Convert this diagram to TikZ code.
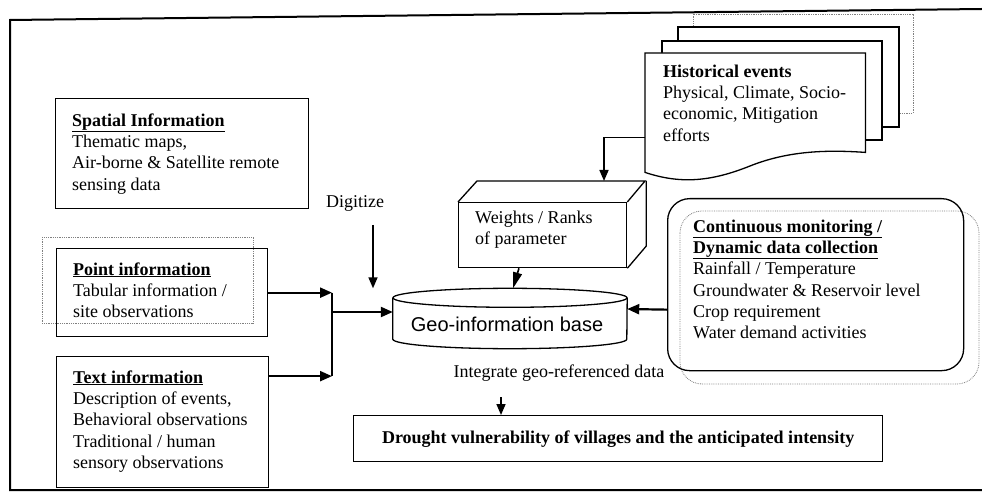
\documentclass[tikz,border=0pt]{standalone}
\usepackage{fontspec}
\setmainfont{Liberation Serif}
\newfontfamily\geofont{Liberation Sans}
\usetikzlibrary{arrows.meta,calc}
\begin{document}
\begin{tikzpicture}[x=1bp,y=-1bp,
  body/.style={font=\fontsize{18bp}{21.3bp}\selectfont},
  boldbody/.style={font=\fontsize{18bp}{21.3bp}\selectfont\bfseries},
  frameline/.style={line width=2bp},
  boxline/.style={draw, line width=1.3bp, inner sep=0pt, anchor=north west},
  ghost/.style={draw=black!50, densely dotted, line width=0.8bp},
  txt/.style={body, anchor=north west, align=left, inner sep=0pt},
  arr/.style={line width=1.6bp, -{Triangle[length=11bp,width=9bp]}},
  thickarr/.style={line width=2.2bp, -{Triangle[length=12bp,width=10bp]}},
  link/.style={line width=2bp},
  sheet/.style={line width=1.3bp, fill=white}]
\useasboundingbox (0,0) rectangle (982,498);

% outer frame
\draw[frameline] (982,9) -- (10,20) -- (10,490) -- (982,490);

% --- left column: input sources ---
\node[boxline, minimum width=253bp, minimum height=110bp] (spatial) at (55,98) {};
\node[txt] (spatialtxt) at (72,111) {\strut\underline{\textbf{Spatial Information}}\\Thematic maps,\\Air-borne \& Satellite remote\\sensing data};

\draw[ghost] (42,237) rectangle (253,323);
\node[boxline, minimum width=211bp, minimum height=88bp] (pt) at (56,248) {};
\node[txt] (pttxt) at (73,260) {\strut\underline{\textbf{Point information}}\\Tabular information /\\site observations};

\node[boxline, minimum width=212bp, minimum height=131bp] (tb) at (56,356) {};
\node[txt] (tbtxt) at (73,368) {\strut\underline{\textbf{Text information}}\\Description of events,\\Behavioral observations\\Traditional / human\\sensory observations};

\node[body, anchor=base] (digit) at (355,208) {Digitize};

% --- central geo-information base (cylinder) ---
\node[inner sep=0pt, minimum width=234bp, minimum height=60bp] (geo) at (510,318.5) {};
\draw[line width=1.3bp] ($(geo.north)+(0,9.5)$) ellipse [x radius=117, y radius=9.5];
\draw[line width=1.3bp] ($(geo.north west)+(0,9.5)$) -- ($(geo.south west)+(0,-9.5)$)
  arc[start angle=180, end angle=0, x radius=117, y radius=9.5] -- ($(geo.north east)+(0,9.5)$);
\node[font=\geofont\fontsize{20bp}{24bp}\selectfont, anchor=base, inner sep=0pt] (geotxt) at (507,332) {Geo-information base};

% --- weights / ranks cuboid ---
\node[boxline, minimum width=168bp, minimum height=65bp] (wts) at (458,202) {};
\draw[line width=1.3bp] (wts.north west) -- ++(19,-21) -- ++(168,0) -- (wts.north east);
\draw[line width=1.3bp] ($(wts.north east)+(19,-21)$) -- ++(0,65) -- (wts.south east);
\node[txt] (wtstxt) at (475,208) {\strut Weights / Ranks\\of parameter};

% --- historical events document stack ---
\draw[sheet, ghost, fill=white] (693,14) rectangle (913,113);
\draw[sheet] (678,27) rectangle (899,127);
\draw[sheet] (662,41) rectangle (882,140);
\node[inner sep=0pt, minimum width=220bp, minimum height=119bp, anchor=north west] (hist) at (645,53) {};
\draw[sheet] (hist.south west) -- (hist.north west) -- (hist.north east) -- ($(hist.south east)+(0,-20)$)
  .. controls (830,150) and (790,150) .. (750,166) .. controls (710,182) and (680,184) .. (hist.south west) -- cycle;
\node[txt] (histtxt) at (663,62) {\strut\textbf{Historical events}\\Physical, Climate, Socio-\\economic, Mitigation\\efforts};

% --- continuous monitoring ---
\draw[ghost, rounded corners=22bp] (680,211) rectangle (979,384);
\node[boxline, rounded corners=22bp, minimum width=296bp, minimum height=172bp] (mon) at (667,198) {};
\node[txt] (montxt) at (693,217) {\strut\underline{\textbf{Continuous monitoring /}}\\\underline{\textbf{Dynamic data collection}}\\Rainfall / Temperature\\Groundwater \& Reservoir level\\Crop requirement\\Water demand activities};

% --- output ---
\node[body, anchor=base] (integ) at (559,378) {Integrate geo-referenced data};
\node[boxline, boldbody, minimum width=529bp, minimum height=46bp] (drought) at (353,415) {Drought vulnerability of villages and the anticipated intensity};

% --- connectors ---
\coordinate (jx) at (332,312);
\draw[thickarr] (pt.east) -- (pt.east -| jx);
\draw[thickarr] ($(tb.east)+(0,-46)$) -- ($(tb.east -| jx)+(0,-46)$);
\draw[link] (pt.east -| jx) -- ($(tb.east -| jx)+(0,-46)$);
\draw[thickarr] (jx) -- (jx -| geo.west);

\coordinate (dg) at (373,225);
\draw[arr] (dg) -- (dg |- geo.north);

\coordinate (wtop) at (604,181);
\draw[arr] ($(hist.south west)+(0,-35)$) -| (wtop);

\draw[line width=1.6bp, -{Triangle[length=16bp,width=9bp]}]
  ($(wts.south west)!0.36!(wts.south east)$) -- ($(geo.north)+(3,0)$);

\draw[thickarr] ($(mon.west)+(0,25)$) -- ($(geo.east)+(0,-9.5)$);

\coordinate (iv) at (501,397);
\draw[arr] (iv) -- (iv |- drought.north);
\end{tikzpicture}
\end{document}
